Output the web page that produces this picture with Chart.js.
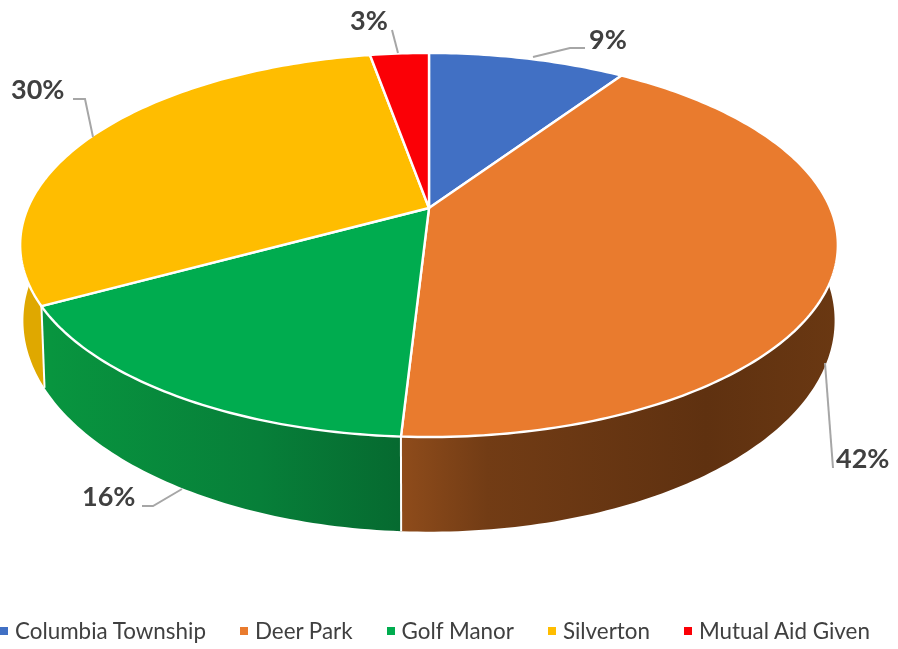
<!DOCTYPE html>
<html>
<head>
<meta charset="utf-8">
<title>Pie</title>
<script src="https://cdn.jsdelivr.net/npm/chart.js@4/dist/chart.umd.min.js"></script>
<style>
  html, body { margin: 0; padding: 0; background: #fff; }
  #wrap { position: relative; width: 898px; height: 649px; overflow: hidden; }
  #legend {
    position: absolute; left: 0; top: 617px; display: flex; gap: 34px; white-space: nowrap;
    font: 22.4px Lato, sans-serif; color: #404040; line-height: 28px;
  }
  #legend span.item { display: flex; align-items: center; }
  #legend i { display: block; width: 8px; height: 8px; margin-right: 7px; }
</style>
</head>
<body>
<div id="wrap">
  <canvas id="chart" width="898" height="649"></canvas>
  <div id="legend"></div>
</div>
<script>
const categories = ["Columbia Township", "Deer Park", "Golf Manor", "Silverton", "Mutual Aid Given"];
const percentValues = [9.4, 41.5, 16.1, 30.2, 2.8];
const sliceColors = ["#4170c4", "#e97b2e", "#00ac4f", "#ffbd00", "#fb0006"];

// perspective of the disc: top face and bottom rim
const K = 0.1927;
const TOP = { x: 429, y: 208, a: 401.2, b: 184.9 };
const LOW = { x: 429, y: 280, a: 398, b: 203.2 };

// t = library arc angle, 0 is the top of the pie
function project(disc, angle) {
  const t = angle + Math.PI / 2;
  const u = Math.sin(t), v = Math.cos(t);
  const w = 1 + K * v;
  return { x: disc.x + disc.a * u / w, y: disc.y - disc.b * v / w };
}

function rimPoints(disc, start, end) {
  const pts = [];
  const steps = Math.max(8, Math.ceil((end - start) * 60));
  for (let i = 0; i <= steps; i++) {
    pts.push(project(disc, start + (end - start) * i / steps));
  }
  return pts;
}

function tracePath(ctx, pts) {
  ctx.beginPath();
  pts.forEach((p, i) => (i ? ctx.lineTo(p.x, p.y) : ctx.moveTo(p.x, p.y)));
  ctx.closePath();
}

function wallFill(ctx, i) {
  if (i === 1) {
    const g = ctx.createLinearGradient(400, 0, 837, 0);
    g.addColorStop(0, "#8f4c1b");
    g.addColorStop(0.2, "#723c15");
    g.addColorStop(0.7, "#5f3110");
    g.addColorStop(1, "#6a3812");
    return g;
  }
  if (i === 2) {
    const g = ctx.createLinearGradient(50, 0, 400, 0);
    g.addColorStop(0, "#08953f");
    g.addColorStop(0.6, "#077f39");
    g.addColorStop(1, "#066a30");
    return g;
  }
  return "#dfa800";
}

const pie3d = {
  id: "pie3d",
  beforeDatasetDraw(chart, args) {
    const ctx = chart.ctx;
    const arcs = chart.getDatasetMeta(args.index).data;

    // side walls, back slices first
    ctx.save();
    [4, 0, 3, 1, 2].forEach((i) => {
      const a = arcs[i];
      const upper = rimPoints(TOP, a.startAngle, a.endAngle);
      const lower = rimPoints(LOW, a.startAngle, a.endAngle).reverse();
      tracePath(ctx, upper.concat(lower));
      ctx.fillStyle = wallFill(ctx, i);
      ctx.fill();
    });
    // white lines where two walls meet on the front
    ctx.strokeStyle = "#fff";
    ctx.lineWidth = 2;
    [arcs[1].endAngle, arcs[2].endAngle].forEach((angle) => {
      const p = project(TOP, angle), q = project(LOW, angle);
      ctx.beginPath();
      ctx.moveTo(p.x, p.y);
      ctx.lineTo(q.x, q.y);
      ctx.stroke();
    });

    // top face
    ctx.lineJoin = "round";
    ctx.lineWidth = 2.4;
    arcs.forEach((a, i) => {
      tracePath(ctx, [{ x: TOP.x, y: TOP.y }].concat(rimPoints(TOP, a.startAngle, a.endAngle)));
      ctx.fillStyle = sliceColors[i];
      ctx.fill();
      ctx.stroke();
    });
    ctx.restore();
    return false;
  },
  afterDatasetsDraw(chart) {
    const ctx = chart.ctx;
    const data = chart.data.datasets[0].data;
    // leader line and text spot for each slice
    const callouts = [
      { line: [[533, 57], [570, 48], [585, 48]], x: 589, y: 40 },
      { line: [[825, 363], [833, 468]], x: 836, y: 459 },
      { line: [[182, 489], [153, 506], [142, 506]], x: 82, y: 497 },
      { line: [[93, 137], [85, 99], [73, 99]], x: 11, y: 90 },
      { line: [[398, 53], [392, 30]], x: 350, y: 21 },
    ];
    ctx.save();
    callouts.forEach((c, i) => {
      ctx.strokeStyle = "#a6a6a6";
      ctx.lineWidth = 2;
      ctx.beginPath();
      c.line.forEach((p, j) => (j ? ctx.lineTo(p[0], p[1]) : ctx.moveTo(p[0], p[1])));
      ctx.stroke();
      ctx.fillStyle = "#404040";
      ctx.font = "bold 27px Lato, sans-serif";
      ctx.textAlign = "left";
      ctx.textBaseline = "middle";
      ctx.fillText(Math.round(data[i]) + "%", c.x, c.y);
    });
    ctx.restore();
  },
};

new Chart(document.getElementById("chart"), {
  type: "pie",
  data: {
    labels: categories,
    datasets: [{ data: percentValues, backgroundColor: sliceColors }],
  },
  options: {
    responsive: false,
    animation: false,
    plugins: { legend: { display: false }, tooltip: { enabled: false } },
  },
  plugins: [pie3d],
});

// legend as html, spacing did not fit the built-in one
const legendEl = document.getElementById("legend");
categories.forEach((name, i) => {
  const item = document.createElement("span");
  item.className = "item";
  const box = document.createElement("i");
  box.style.background = sliceColors[i];
  item.appendChild(box);
  item.appendChild(document.createTextNode(name));
  legendEl.appendChild(item);
});
</script>
</body>
</html>
